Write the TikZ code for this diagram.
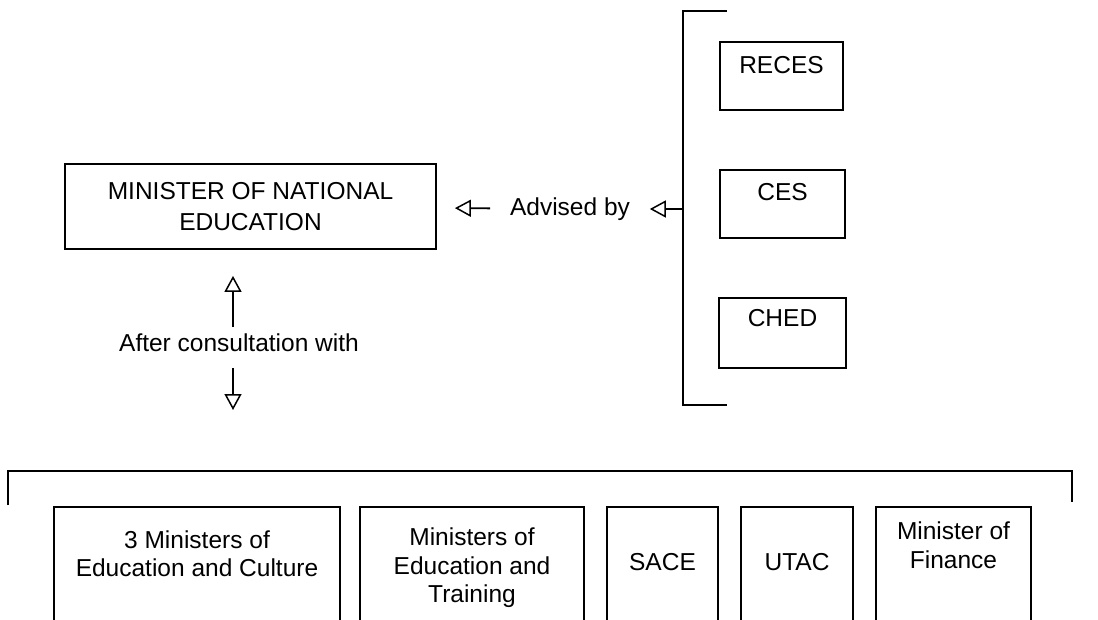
\documentclass[tikz,border=0pt]{standalone}
\usepackage{fontspec}
\setmainfont{Liberation Sans}
\usetikzlibrary{arrows.meta}

\begin{document}
\begin{tikzpicture}[x=1pt,y=-1pt,line width=1.8pt,font=\fontsize{24.5}{28.5}\selectfont]
  \tikzstyle{box}=[draw,inner sep=0pt]
  \tikzstyle{txt}=[inner sep=0pt,align=center]
  \tikzstyle{arr}=[-{Triangle[open,length=16pt,width=17pt,line width=1.5pt]}]
  \clip (0,0) rectangle (1098,620);

  % minister and advisers
  \node[box,minimum width=371pt,minimum height=85pt,align=center,
        font=\fontsize{24.5}{31.5}\selectfont] (minister) at (250.5,206.5) {MINISTER OF NATIONAL\\EDUCATION};
  \node[txt] (advised) at (570,209) {Advised by};
  \node[box,minimum width=123pt,minimum height=68pt] (reces) at (781.5,76) {};
  \node[box,minimum width=125pt,minimum height=68pt] (ces) at (782.5,204) {};
  \node[box,minimum width=127pt,minimum height=70pt] (ched) at (782.5,333) {};
  \node[txt] (recesT) at (781.5,65) {RECES};
  \node[txt] (cesT) at (782.5,192) {CES};
  \node[txt] (chedT) at (782.5,318) {CHED};
  \coordinate (brk) at (683,209);
  \draw (727,11) -- (683,11) -- (683,405) -- (727,405);

  \draw[arr,shorten <=19pt,shorten >=18pt] (advised) -- (minister);
  \draw[arr,shorten >=19pt] (brk) -- (advised);

  % consultation
  \node[txt] (consult) at (239,343) {After consultation with};
  \coordinate (consultEnd) at (233,410);
  \draw[arr,shorten <=6pt,shorten >=26pt] (consult.north -| 233,0) -- (minister.south -| 233,0);
  \draw[arr,shorten <=15pt] (consult.south -| 233,0) -- (consultEnd);

  \draw (8,505) -- (8,471) -- (1072,471) -- (1072,502);
  \node[box,minimum width=286pt,minimum height=133pt] (edcult) at (197,573.5) {};
  \node[box,minimum width=224pt,minimum height=133pt] (edtrain) at (472,573.5) {};
  \node[box,minimum width=111pt,minimum height=133pt] (sace) at (662.5,573.5) {};
  \node[box,minimum width=112pt,minimum height=133pt] (utac) at (797,573.5) {};
  \node[box,minimum width=155pt,minimum height=133pt] (finance) at (953.5,573.5) {};
  \node[txt] (edcultT) at (197,553.5) {3 Ministers of\\Education and Culture};
  \node[txt] (edtrainT) at (472,568) {Ministers of\\Education and\\Training};
  \node[txt] (saceT) at (662.5,562) {SACE};
  \node[txt] (utacT) at (797,562) {UTAC};
  \node[txt] (financeT) at (953.5,545) {Minister of\\Finance};
\end{tikzpicture}
\end{document}
